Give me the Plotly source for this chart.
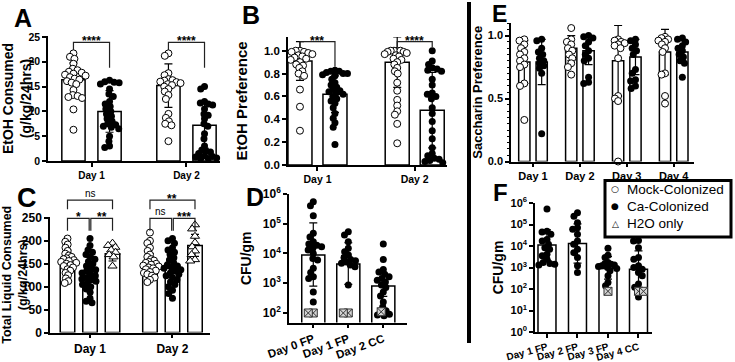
import math
import plotly.graph_objects as go

W, H = 735, 362
FONT = "Liberation Sans, Arial, sans-serif"

# ============================ DATA ============================
# Panel A - EtOH consumed (g/kg/24hrs)
A_days = ["Day 1", "Day 2"]
A_mock_pts = [
    [21.7, 21.0, 20.6, 19.6, 18.6, 18.3, 18.0, 17.8, 17.6, 17.4, 17.2, 16.9,
     16.6, 16.4, 16.1, 15.8, 15.5, 14.3, 13.3, 13.1, 12.9, 12.7, 10.4, 6.3],
    [21.7, 21.2, 17.7, 17.3, 16.5, 16.3, 16.2, 16.0, 15.9, 15.7, 15.5, 15.3,
     15.0, 14.5, 14.0, 13.3, 12.5, 9.5, 8.7, 8.0, 7.5, 7.2, 4.0],
]
A_ca_pts = [
    [16.3, 16.0, 15.9, 15.8, 15.5, 14.5, 13.5, 13.0, 12.0, 11.5, 11.0, 10.5,
     10.0, 9.5, 9.0, 8.5, 8.0, 7.5, 7.3, 7.0, 6.8, 6.5, 5.0, 4.0, 3.0, 2.7],
    [15.0, 14.5, 12.0, 11.7, 11.5, 11.3, 10.5, 9.5, 9.2, 8.5, 7.5, 7.0, 5.5,
     4.5, 3.0, 2.2, 2.0, 1.8, 1.5, 1.0, 0.9, 0.8, 0.6, 0.5, 0.5],
]
A_mock_mean = [16.4, 15.2]
A_mock_sd = [3.4, 4.4]
A_ca_mean = [10.0, 7.2]
A_ca_sd = [4.2, 4.6]
A_sig = ["****", "****"]

# Panel B - EtOH preference
B_days = ["Day 1", "Day 2"]
B_mock_pts = [
    [1.0, 1.0, 0.99, 0.99, 0.98, 0.98, 0.97, 0.96, 0.95, 0.94, 0.93, 0.92,
     0.9, 0.88, 0.87, 0.85, 0.82, 0.8, 0.78, 0.66, 0.51, 0.3],
    [1.0, 1.0, 1.0, 1.0, 0.99, 0.99, 0.98, 0.97, 0.96, 0.95, 0.93, 0.92, 0.9,
     0.88, 0.85, 0.82, 0.8, 0.72, 0.65, 0.57, 0.52, 0.47, 0.44, 0.36, 0.19],
]
B_ca_pts = [
    [0.83, 0.82, 0.82, 0.81, 0.8, 0.8, 0.79, 0.78, 0.75, 0.72, 0.7, 0.68,
     0.66, 0.65, 0.64, 0.63, 0.62, 0.6, 0.58, 0.56, 0.54, 0.5, 0.45, 0.41,
     0.37, 0.33, 0.18],
    [1.0, 0.91, 0.88, 0.85, 0.84, 0.83, 0.82, 0.75, 0.7, 0.63, 0.62, 0.6,
     0.58, 0.5, 0.45, 0.38, 0.3, 0.23, 0.15, 0.1, 0.08, 0.06, 0.05, 0.04,
     0.03, 0.02],
]
B_mock_mean = [0.91, 0.90]
B_mock_sd = [0.17, 0.22]
B_ca_mean = [0.62, 0.48]
B_ca_sd = [0.16, 0.33]
B_sig = ["***", "****"]

# Panel C - Total liquid consumed (g/kg/24hrs)
C_days = ["Day 1", "Day 2"]
C_mock_pts = [
    [205, 198, 192, 185, 178, 172, 168, 165, 162, 160, 158, 156, 154, 152,
     150, 147, 145, 142, 138, 135, 130, 125, 118, 112, 108],
    [218, 200, 195, 185, 178, 170, 165, 160, 157, 154, 152, 150, 148, 146,
     144, 142, 140, 138, 135, 132, 130, 127, 124, 120, 115, 110],
]
C_ca_pts = [
    [205, 190, 180, 175, 170, 165, 160, 155, 150, 145, 140, 137, 134, 130,
     127, 124, 120, 117, 115, 112, 108, 105, 100, 95, 88, 75, 68, 65],
    [205, 200, 195, 185, 180, 175, 170, 163, 158, 152, 148, 145, 142, 140,
     137, 134, 130, 127, 124, 120, 115, 110, 105, 100, 92, 85, 75],
]
C_h2o_pts = [
    [195, 190, 186, 180, 175, 170, 165, 145],
    [235, 226, 210, 196, 187, 178, 170, 159, 156],
]
C_mock_mean = [155, 150]
C_mock_sd = [25, 22]
C_ca_mean = [133, 140]
C_ca_sd = [32, 30]
C_h2o_mean = [172, 190]
C_h2o_sd = [16, 24]
C_sig_top = ["ns", "**"]          # mock vs H2O
C_sig_left = ["*", "ns"]          # mock vs Ca
C_sig_right = ["**", "***"]       # Ca vs H2O

# Panel D - CFU/gm (Ca-colonized, and H2O-only below detection)
D_sites = ["Day 0 FP", "Day 1 FP", "Day 2 CC"]
D_ca_pts = [
    [550000, 400000, 186000, 48000, 36000, 25000, 21000, 19000, 17000, 15000,
     13200, 10000, 6800, 6000, 3200, 2300, 1660, 1450, 510, 235],
    [54000, 42000, 25000, 15000, 11500, 8900, 7400, 6300, 5700, 5200, 4700,
     4100, 3600, 870],
    [21000, 6300, 2900, 2400, 2000, 1660, 1450, 1260, 1100, 870, 720, 510,
     370, 235, 160, 120, 90, 85, 80],
]
D_h2o_pts = [[100, 100], [100, 100], [110]]
D_mean = [8900, 4400, 800]
D_err_hi = [107000, 23000, 1740]
D_err_lo = [800, 910, 360]

# Panel E - Saccharin preference
E_days = ["Day 1", "Day 2", "Day 3", "Day 4"]
E_mock_pts = [
    [0.97, 0.96, 0.93, 0.9, 0.87, 0.85, 0.82, 0.8, 0.77, 0.75, 0.62, 0.6, 0.33],
    [1.06, 0.97, 0.95, 0.93, 0.9, 0.88, 0.85, 0.82, 0.78, 0.75, 0.69],
    [0.97, 0.96, 0.95, 0.94, 0.93, 0.92, 0.9, 0.82, 0.52, 0.5, 0.48, 0.0],
    [0.99, 0.98, 0.97, 0.96, 0.95, 0.93, 0.9, 0.87, 0.7, 0.69, 0.52, 0.46],
]
E_ca_pts = [
    [0.97, 0.96, 0.9, 0.87, 0.85, 0.82, 0.8, 0.78, 0.76, 0.74, 0.7, 0.22],
    [1.0, 0.99, 0.98, 0.95, 0.92, 0.88, 0.85, 0.82, 0.8, 0.67, 0.63, 0.62],
    [0.97, 0.96, 0.93, 0.9, 0.88, 0.85, 0.73, 0.7, 0.65, 0.64, 0.6, 0.58],
    [0.98, 0.97, 0.95, 0.92, 0.9, 0.88, 0.85, 0.83, 0.8, 0.78, 0.67],
]
E_mock_mean = [0.79, 0.90, 0.80, 0.87]
E_mock_sd = [0.17, 0.10, 0.28, 0.18]
E_ca_mean = [0.79, 0.88, 0.83, 0.87]
E_ca_sd = [0.18, 0.11, 0.14, 0.09]

# Panel F - CFU/gm
F_sites = ["Day 1 FP", "Day 2 FP", "Day 3 FP", "Day 4 CC"]
F_ca_pts = [
    [525000, 49000, 45000, 35000, 20000, 17000, 12000, 8300, 7000, 4100,
     3500, 2400, 1700, 1550, 1400, 1300],
    [350000, 240000, 120000, 70000, 60000, 35000, 17000, 12000, 7000, 4900,
     2900, 1200, 590],
    [7800, 3700, 2900, 1700, 1500, 1400, 1300, 1200, 1100, 1000, 900, 700,
     415, 200, 140],
    [18000, 17000, 8300, 2900, 2400, 1200, 1000, 840, 590, 415, 170, 120, 42],
]
F_h2o_pts = [[], [], [78], [78, 78]]
F_mean = [11000, 13200, 900, 840]
F_err_hi = [56000, 107000, 3200, 5900]
F_err_lo = [2200, 1600, 290, 120]

GROUP_NAMES = ["Mock-Colonized", "Ca-Colonized", "H2O only"]

# ============================ LAYOUT GEOMETRY ============================
PANELS = {
    "A": dict(n=1, px_x=(48, 220), px_y=(36, 161), xr=(0.542, 2.353), yr=(0, 25.2), log=False),
    "B": dict(n=2, px_x=(288, 447), px_y=(37, 165), xr=(0.697, 2.332), yr=(0, 1.12), log=False),
    "C": dict(n=3, px_x=(50, 210), px_y=(217, 332.5), xr=(0.515, 2.455), yr=(0, 252), log=False),
    "D": dict(n=4, px_x=(289, 407), px_y=(194, 322.5), xr=(0.306, 3.677), yr=(1.68, 6.0), log=True),
    "E": dict(n=5, px_x=(511, 694), px_y=(23, 161.5), xr=(0.531, 4.433), yr=(0, 1.1), log=False),
    "F": dict(n=6, px_x=(535, 652), px_y=(203, 332), xr=(0.607, 4.443), yr=(0, 6.0), log=True),
}

MOCK = dict(symbol="circle", size=7, color="white", line=dict(color="black", width=1))
CA = dict(symbol="circle", size=7, color="black", line=dict(color="black", width=0))
H2O = dict(symbol="triangle-up", size=8, color="white", line=dict(color="black", width=1))
H2O_BOX = dict(symbol="square-x", size=8, color="#d4d4d4", line=dict(color="#333333", width=1))
BAR_STYLE = dict(color="white", line=dict(color="black", width=1.5))


def axn(p):
    n = p["n"]
    return ("x" if n == 1 else f"x{n}"), ("y" if n == 1 else f"y{n}")


def xpx(p, x):
    (a, b), (r0, r1) = p["px_x"], p["xr"]
    return a + (x - r0) / (r1 - r0) * (b - a)


def ypx(p, y):
    (top, bot), (r0, r1) = p["px_y"], p["yr"]
    v = math.log10(y) if p["log"] else y
    return bot - (v - r0) / (r1 - r0) * (bot - top)


def units_per_px(p):
    (a, b), (r0, r1) = p["px_x"], p["xr"]
    return (r1 - r0) / (b - a)


def swarm(p, vals, limit, d=5.0):
    """Deterministic beeswarm (pixel offsets), squeezed to stay within +-limit px."""
    ys = [ypx(p, v) for v in vals]
    order = sorted(range(len(vals)), key=lambda i: ys[i])
    placed, out = [], [0.0] * len(vals)
    for i in order:
        y = ys[i]
        cands = [0.0]
        for (qx, qy) in placed:
            dy = abs(qy - y)
            if dy < d:
                dx = math.sqrt(d * d - dy * dy)
                cands += [qx + dx, qx - dx]
        cands.sort(key=lambda c: (abs(c), c))
        for c in cands:
            if all((c - qx) ** 2 + (y - qy) ** 2 >= d * d - 1e-6 for qx, qy in placed):
                out[i] = c
                break
        placed.append((out[i], y))
    m = max([abs(o) for o in out] + [1e-9])
    if m > limit:
        out = [o * limit / m for o in out]
    return out


fig = go.Figure()


def add_bars(p, means, offset, width, err_plus, err_minus=None, name=""):
    xa, ya = axn(p)
    pos = list(range(1, len(means) + 1))
    ey = dict(type="data", array=err_plus, color="black", thickness=1.2, width=4, visible=True)
    if err_minus is not None:
        ey.update(symmetric=False, arrayminus=err_minus)
    fig.add_trace(go.Bar(x=[q + offset for q in pos], y=means, width=width,
                         marker=BAR_STYLE, error_y=ey, xaxis=xa, yaxis=ya,
                         name=name, showlegend=False, hoverinfo="skip"))


def add_points(p, pts_by_cat, offset, bar_w, style, name, extra=None, extra_style=None,
               extra_name=""):
    """Swarm points of one group per category; 'extra' points are swarmed together with them."""
    xa, ya = axn(p)
    k = units_per_px(p)
    limit = max(bar_w / k / 2 + 0.5, 5.0)
    xs, ys, exs, eys = [], [], [], []
    for ci, pts in enumerate(pts_by_cat):
        ex = extra[ci] if extra else []
        allv = list(pts) + list(ex)
        if not allv:
            continue
        offs = swarm(p, allv, limit)
        q = ci + 1 + offset
        for j, v in enumerate(allv):
            if j < len(pts):
                xs.append(q + offs[j] * k)
                ys.append(v)
            else:
                exs.append(q + offs[j] * k)
                eys.append(v)
    fig.add_trace(go.Scatter(x=xs, y=ys, mode="markers", marker=style, xaxis=xa, yaxis=ya,
                             name=name, showlegend=False, cliponaxis=False))
    if extra:
        fig.add_trace(go.Scatter(x=exs, y=eys, mode="markers", marker=extra_style, xaxis=xa,
                                 yaxis=ya, name=extra_name, showlegend=False, cliponaxis=False))


# ---- Panel A
pA = PANELS["A"]
add_bars(pA, A_mock_mean, -0.19, 0.245, A_mock_sd, name=GROUP_NAMES[0])
add_bars(pA, A_ca_mean, 0.19, 0.245, A_ca_sd, name=GROUP_NAMES[1])
add_points(pA, A_mock_pts, -0.19, 0.245, MOCK, GROUP_NAMES[0])
add_points(pA, A_ca_pts, 0.19, 0.245, CA, GROUP_NAMES[1])

# ---- Panel B
pB = PANELS["B"]
add_bars(pB, B_mock_mean, -0.18, 0.247, B_mock_sd, name=GROUP_NAMES[0])
add_bars(pB, B_ca_mean, 0.18, 0.247, B_ca_sd, name=GROUP_NAMES[1])
add_points(pB, B_mock_pts, -0.18, 0.247, MOCK, GROUP_NAMES[0])
add_points(pB, B_ca_pts, 0.18, 0.247, CA, GROUP_NAMES[1])

# ---- Panel C
pC = PANELS["C"]
add_bars(pC, C_mock_mean, -0.273, 0.176, C_mock_sd, name=GROUP_NAMES[0])
add_bars(pC, C_ca_mean, 0.0, 0.176, C_ca_sd, name=GROUP_NAMES[1])
add_bars(pC, C_h2o_mean, 0.273, 0.176, C_h2o_sd, name=GROUP_NAMES[2])
add_points(pC, C_mock_pts, -0.273, 0.2, MOCK, GROUP_NAMES[0])
add_points(pC, C_ca_pts, 0.0, 0.2, CA, GROUP_NAMES[1])
add_points(pC, C_h2o_pts, 0.273, 0.2, H2O, GROUP_NAMES[2])

# ---- Panel D
pD = PANELS["D"]
add_bars(pD, D_mean, 0.0, 0.66, [h - m for h, m in zip(D_err_hi, D_mean)],
         [m - l for l, m in zip(D_err_lo, D_mean)], name=GROUP_NAMES[1])
add_points(pD, D_ca_pts, 0.0, 0.66, CA, GROUP_NAMES[1], extra=D_h2o_pts,
           extra_style=H2O_BOX, extra_name=GROUP_NAMES[2])

# ---- Panel E
pE = PANELS["E"]
add_bars(pE, E_mock_mean, -0.185, 0.24, E_mock_sd, name=GROUP_NAMES[0])
add_bars(pE, E_ca_mean, 0.185, 0.24, E_ca_sd, name=GROUP_NAMES[1])
add_points(pE, E_mock_pts, -0.185, 0.26, MOCK, GROUP_NAMES[0])
add_points(pE, E_ca_pts, 0.185, 0.26, CA, GROUP_NAMES[1])

# ---- Panel F
pF = PANELS["F"]
add_bars(pF, F_mean, 0.0, 0.59, [h - m for h, m in zip(F_err_hi, F_mean)],
         [m - l for l, m in zip(F_err_lo, F_mean)], name=GROUP_NAMES[1])
add_points(pF, F_ca_pts, 0.0, 0.59, CA, GROUP_NAMES[1], extra=F_h2o_pts,
           extra_style=H2O_BOX, extra_name=GROUP_NAMES[2])


# ============================ AXES ============================
def tfont(size, bold=True):
    d = dict(family=FONT, size=size, color="black")
    if bold:
        d["weight"] = "bold"
    return d


def base_axis(size):
    return dict(showline=True, linecolor="black", linewidth=1.5, ticks="outside", ticklen=4,
                tickwidth=1.5, tickcolor="black", showgrid=False, zeroline=False,
                tickfont=tfont(size), fixedrange=True)


def set_axes(p, cats, xsize, ysize, title, title_size, standoff, tickangle=0, **yextra):
    n = p["n"]
    xa, ya = axn(p)
    xkey = "xaxis" if n == 1 else f"xaxis{n}"
    ykey = "yaxis" if n == 1 else f"yaxis{n}"
    xd = base_axis(xsize)
    xd.update(domain=[p["px_x"][0] / W, p["px_x"][1] / W], range=list(p["xr"]), anchor=ya,
              tickmode="array", tickvals=list(range(1, len(cats) + 1)), ticktext=cats,
              tickangle=tickangle)
    yd = base_axis(ysize)
    yd.update(domain=[1 - p["px_y"][1] / H, 1 - p["px_y"][0] / H], range=list(p["yr"]),
              anchor=xa, type="log" if p["log"] else "linear",
              title=dict(text=title, font=tfont(title_size), standoff=standoff))
    yd.update(yextra)
    fig.update_layout({xkey: xd, ykey: yd})


def pow_ticks(lo, hi):
    return dict(tickmode="array", tickvals=[10 ** e for e in range(lo, hi + 1)],
                ticktext=[f"10<sup>{e}</sup>" for e in range(lo, hi + 1)])


set_axes(pA, A_days, 10, 10.5, "EtOH Consumed<br>(g/kg/24hrs)", 14, 13, dtick=5)
set_axes(pB, B_days, 10.5, 11.5, "EtOH Preference", 15, 13, dtick=0.2, tickformat=".1f")
set_axes(pC, C_days, 12, 12, "Total Liquid Consumed<br>(g/kg/24hrs)", 12.5, 6, dtick=50)
set_axes(pD, D_sites, 11.5, 12, "CFU/gm", 14, 8, tickangle=-20, **pow_ticks(2, 6))
set_axes(pE, E_days, 11, 11, "Saccharin Preference", 13, 2, dtick=0.5, tickformat=".1f",
         minor=dict(dtick=0.05, ticks="outside", ticklen=2, tickwidth=1, tickcolor="black"))
set_axes(pF, F_sites, 10, 11, "CFU/gm", 14, 4, tickangle=-15, **pow_ticks(0, 6))

# ============================ BRACKETS / LABELS ============================
shapes, annots = [], []


def paper(p, x, y):
    return xpx(p, x) / W, 1 - ypx(p, y) / H


def bracket(p, x1, x2, y, yl, yr, text, bold=True, size=12):
    X1, Y = paper(p, x1, y)
    X2, _ = paper(p, x2, y)
    _, YL = paper(p, x1, yl)
    _, YR = paper(p, x2, yr)
    shapes.append(dict(type="path", xref="paper", yref="paper",
                       path=f"M {X1},{YL} L {X1},{Y} L {X2},{Y} L {X2},{YR}",
                       line=dict(color="#222222", width=1.2)))
    annots.append(dict(x=(X1 + X2) / 2, y=Y, xref="paper", yref="paper", text=text,
                       showarrow=False, xanchor="center", yanchor="bottom",
                       yshift=(-8 if "*" in text else -1),
                       font=tfont(size, bold)))


for i, s in enumerate(A_sig):
    bracket(pA, i + 1 - 0.19, i + 1 + 0.19, 23.9, 22.4, 18.8, s)
for i, s in enumerate(B_sig):
    bracket(pB, i + 1 - 0.18, i + 1 + 0.18, 1.079, 1.035, 0.86 if i == 0 else 1.03, s)
for i in range(2):
    q = i + 1
    for lab, xl, xr, yb, leg in [(C_sig_top[i], q - 0.273, q + 0.273, 289, 269),
                                 (C_sig_left[i], q - 0.273, q - 0.01, 249, 222),
                                 (C_sig_right[i], q + 0.01, q + 0.273, 249, 222)]:
        star = "*" in lab
        bracket(pC, xl, xr, yb, leg, leg, lab, bold=star, size=12 if star else 10)

# Panel letters
for txt, x, y, s in [("A", 23, 18, 25), ("B", 251, 15, 25), ("C", 27, 198, 27),
                     ("D", 255, 197, 25), ("E", 499, 13.5, 23), ("F", 500, 192, 24)]:
    annots.append(dict(x=x / W, y=1 - y / H, xref="paper", yref="paper", text=txt,
                       showarrow=False, xanchor="center", yanchor="middle",
                       font=tfont(s)))

# Vertical separator
shapes.append(dict(type="line", xref="paper", yref="paper", x0=469 / W, x1=469 / W,
                   y0=1 - 2 / H, y1=1 - 343 / H, line=dict(color="black", width=4)))

# Legend box (drawn)
shapes.append(dict(type="rect", xref="paper", yref="paper", x0=605 / W, x1=731 / W,
                   y0=1 - 237 / H, y1=1 - 180.5 / H, line=dict(color="black", width=3),
                   fillcolor="white", layer="above"))
for glyph, label, y in [("○", GROUP_NAMES[0], 189), ("●", GROUP_NAMES[1], 206.5),
                        ("△", GROUP_NAMES[2], 223.5)]:
    annots.append(dict(x=615 / W, y=1 - y / H, xref="paper", yref="paper", text=glyph,
                       showarrow=False, xanchor="center", yanchor="middle",
                       font=dict(family="DejaVu Sans", size=9, color="black")))
    annots.append(dict(x=625 / W, y=1 - y / H, xref="paper", yref="paper", text=label,
                       showarrow=False, xanchor="left", yanchor="middle",
                       font=dict(family=FONT, size=13.5, color="black")))

fig.update_layout(
    width=W, height=H, margin=dict(l=0, r=0, t=0, b=0, autoexpand=False),
    paper_bgcolor="white", plot_bgcolor="white", barmode="overlay",
    showlegend=False, shapes=shapes, annotations=annots,
    font=dict(family=FONT, color="black"),
)

fig.write_html("out.html")
